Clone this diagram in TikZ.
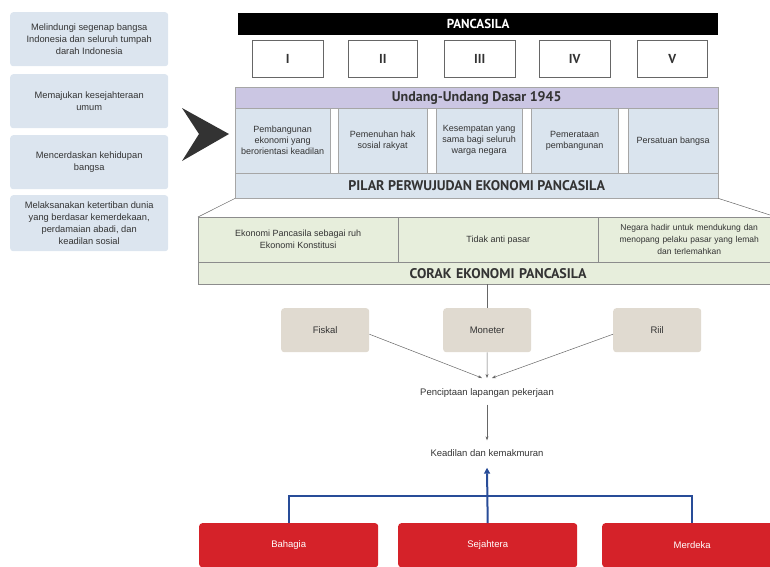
\documentclass[tikz,border=0pt]{standalone}
\usepackage{fontspec}
\setmainfont{Liberation Sans}
\newfontfamily\hfont{PT Sans}
\usetikzlibrary{arrows.meta}
\definecolor{lblue}{HTML}{DCE5EF}
\definecolor{colblue}{HTML}{DAE4EE}
\definecolor{lav}{HTML}{CBC6E3}
\definecolor{lgreen}{HTML}{E7EEDC}
\definecolor{beige}{HTML}{E0DAD0}
\definecolor{rred}{HTML}{D52229}
\definecolor{bline}{HTML}{284C98}
\definecolor{chev}{HTML}{333333}
\tikzset{
  small/.style={font=\fontsize{9}{11}\selectfont, align=center, text=black!80},
  leftbox/.style={small, font=\fontsize{9.3}{12}\selectfont, fill=lblue, rounded corners=3pt, anchor=north west, inner sep=1pt},
  colbox/.style={small, fill=colblue, draw=black!35, line width=0.4pt, anchor=north west, inner sep=1pt},
  romanbox/.style={draw=black!60, fill=white, line width=0.5pt, anchor=north west, font=\hfont\bfseries\fontsize{13}{15}\selectfont, text=black!80},
  greencell/.style={align=center, text=black!80, font=\fontsize{9}{12}\selectfont, fill=lgreen, draw=black!45, line width=0.4pt, anchor=north west, inner sep=1pt},
  beigebox/.style={small, font=\fontsize{9.5}{11}\selectfont, fill=beige, rounded corners=3pt, anchor=north west, minimum width=88pt, minimum height=44pt},
  redbox/.style={font=\fontsize{9.5}{11}\selectfont, text=white, fill=rred, rounded corners=3pt, anchor=north west, minimum width=179pt, minimum height=44pt},
  headbar/.style={anchor=north west, inner sep=0pt, line width=0.4pt, text=black!80, font=\hfont\bfseries\fontsize{14}{16}\selectfont},
  conn/.style={draw=black!60, line width=0.5pt},
  arr/.style={conn, -{Stealth[length=4pt,width=3pt]}},
  blueconn/.style={draw=bline, line width=2pt},
}
\begin{document}
\begin{tikzpicture}[x=1pt,y=-1pt]
\useasboundingbox (0,0) rectangle (770,566);
% left boxes
\node[leftbox, minimum width=158pt, minimum height=54pt] (l1) at (10,12) {Melindungi segenap bangsa\\Indonesia dan seluruh tumpah\\darah Indonesia};
\node[leftbox, minimum width=158pt, minimum height=54pt] (l2) at (10,74) {Memajukan kesejahteraan\\umum};
\node[leftbox, minimum width=158pt, minimum height=54pt] (l3) at (10,135) {Mencerdaskan kehidupan\\bangsa};
\node[leftbox, minimum width=158pt, minimum height=56pt] (l4) at (10,195) {Melaksanakan ketertiban dunia\\yang berdasar kemerdekaan,\\perdamaian abadi, dan\\keadilan sosial};
% chevron
\fill[chev] (182,108) -- (229,134) -- (182,161) -- (199,134) -- cycle;
% Pancasila bar
\node[headbar, fill=black, minimum width=480pt, minimum height=22pt, text=white, font=\hfont\bfseries\fontsize{13}{15}\selectfont] (pan) at (238,13) {PANCASILA};
\node[romanbox, minimum width=71pt, minimum height=37pt] (r1) at (252,40) {I};
\node[romanbox, minimum width=69pt, minimum height=37pt] (r2) at (348,40) {II};
\node[romanbox, minimum width=71pt, minimum height=37pt] (r3) at (444,40) {III};
\node[romanbox, minimum width=71pt, minimum height=37pt] (r4) at (539,40) {IV};
\node[romanbox, minimum width=70pt, minimum height=37pt] (r5) at (637,40) {V};
% UUD block
\fill[white] (235,87) rectangle (718,198);
\node[headbar, fill=lav, draw=black!35, minimum width=483pt, minimum height=21pt] (uud) at (235,87) {Undang-Undang Dasar 1945};
\node[colbox, minimum width=95pt, minimum height=65pt] (c1) at (235,108) {Pembangunan\\ekonomi yang\\berorientasi keadilan};
\node[colbox, minimum width=89pt, minimum height=65pt] (c2) at (338,108) {Pemenuhan hak\\sosial rakyat};
\node[colbox, minimum width=86pt, minimum height=65pt] (c3) at (436,108) {Kesempatan yang\\sama bagi seluruh\\warga negara};
\node[colbox, minimum width=87pt, minimum height=65pt] (c4) at (531,108) {Pemerataan\\pembangunan};
\node[colbox, minimum width=90pt, minimum height=65pt] (c5) at (628,108) {Persatuan bangsa};
\node[headbar, fill=colblue, draw=black!35, minimum width=483pt, minimum height=25pt] (pilar) at (235,173) {PILAR PERWUJUDAN EKONOMI PANCASILA};
% trapezoid lines
\draw[conn] (pilar.south west) -- (198,217);
\draw[conn] (pilar.south east) -- (770,215);
% Corak block
\node[greencell, minimum width=200pt, minimum height=45pt] (g1) at (198,217) {Ekonomi Pancasila sebagai ruh\\Ekonomi Konstitusi};
\node[greencell, minimum width=200pt, minimum height=45pt] (g2) at (398,217) {Tidak anti pasar};
\node[greencell, font=\fontsize{8.5}{12}\selectfont, minimum width=182pt, minimum height=45pt, text width=176pt] (g3) at (598,217) {Negara hadir untuk mendukung dan\\menopang pelaku pasar yang lemah\\dan terlemahkan};
\node[headbar, fill=lgreen, draw=black!45, minimum width=600pt, minimum height=22pt, text width=386pt, align=center] (corak) at (198,262) {CORAK EKONOMI PANCASILA};
% beige boxes
\node[beigebox] (fis) at (281,308) {Fiskal};
\node[beigebox] (mon) at (443,308) {Moneter};
\node[beigebox] (rii) at (613,308) {Riil};
\draw[conn] (mon.north |- corak.south) -- (mon.north);
\coordinate (conv) at (487,378);
\node[small, font=\fontsize{9.5}{11}\selectfont, inner sep=1pt] (pen) at (487,393) {Penciptaan lapangan pekerjaan};
\node[small, font=\fontsize{9.5}{11}\selectfont, inner sep=1pt] (kead) at (487,453) {Keadilan dan kemakmuran};
\draw[arr] ([yshift=-4pt]fis.east) -- ([xshift=-5pt]conv);
\draw[arr] ([yshift=-4pt]rii.west) -- ([xshift=5pt]conv);
\draw[arr] (mon.south) -- (conv);
\draw[arr] ([yshift=-6pt]pen.south) -- ([yshift=8pt]kead.north);
% red boxes
\node[redbox] (bah) at (199,523) {Bahagia};
\node[redbox, minimum width=179pt] (sej) at (398,523) {Sejahtera};
\node[redbox, minimum width=180pt] (mer) at (602,523) {Merdeka};
\draw[blueconn] (bah.north) -- ++(0,-27) -| (mer.north);
\draw[blueconn, -{Triangle[length=6pt,width=6pt]}] (sej.north) -- ([yshift=-10pt]kead.south);
\end{tikzpicture}
\end{document}
